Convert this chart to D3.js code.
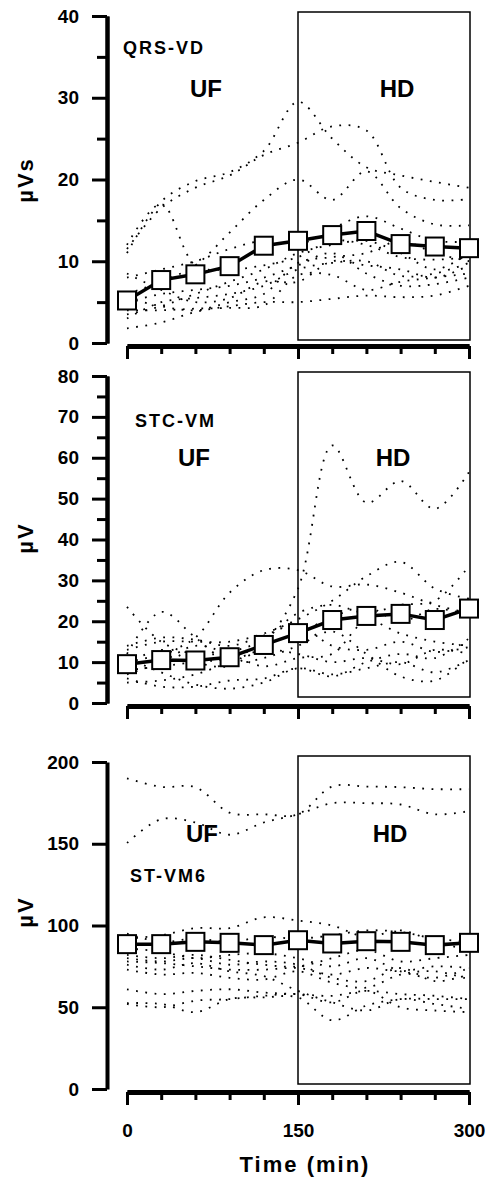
<!DOCTYPE html>
<html>
<head>
<meta charset="utf-8">
<script src="https://cdn.jsdelivr.net/npm/d3@7"></script>
<style>
  body { margin: 0; background: #fff; }
  text { font-family: "Liberation Sans", Arial, sans-serif; font-weight: bold; fill: #000; }
</style>
</head>
<body>
<svg width="487" height="1183"></svg>
<script>
// time points (min)
let times = [0, 30, 60, 90, 120, 150, 180, 210, 240, 270, 300];

// QRS-VD (µVs): group mean + single patients
let qrsMean = [5.2, 7.7, 8.4, 9.4, 11.9, 12.5, 13.2, 13.7, 12.1, 11.8, 11.6];
let qrsPatients = [
  [11, 17.3, 19.8, 20.9, 23.5, 29.5, 25, 21.5, 20.5, 19.7, 19],
  [11.5, 16.5, 19, 20.5, 23, 24.5, 26.5, 26, 19, 17.5, 17.6],
  [12, 17, 9.5, 9, 9.5, 10.5, 12.5, 12, 10.5, 10.2, 10.5],
  [6, 7.5, 9.5, 13.5, 17.5, 20, 17.5, 21, 16.5, 14.5, 14.4],
  [8, 9, 10, 11.5, 12.5, 12, 14, 15.5, 14, 12.5, 12.4],
  [1.8, 2.5, 3.8, 4.5, 5, 5, 5.4, 5.8, 5.6, 5.8, 7],
  [4, 4, 4.2, 4.3, 4.6, 8.3, 8.3, 6.5, 7.5, 8, 8.5],
  [5, 6, 6.5, 7, 8, 9.5, 11, 8.5, 7, 7.2, 8],
  [3, 5, 5.5, 6, 7, 9, 9.8, 10, 8.2, 8.5, 9.8],
  [3.5, 4.5, 6, 7.5, 9, 11, 12, 12.5, 11, 9, 11],
  [8.5, 6.5, 5, 5.5, 7.5, 7.5, 10, 9.5, 9, 8, 9.5],
  [5.5, 4.5, 4, 5, 6, 9.8, 10.5, 11, 12.5, 11, 10]
];

// STC-VM (µV)
let stcMean = [9.5, 10.5, 10.4, 11.2, 14.2, 17.1, 20.3, 21.3, 21.8, 20.3, 23.1];
let stcPatients = [
  [10, 12, 16, 27, 32.5, 32.5, 28.5, 29, 27, 24, 22],
  [13, 15, 15, 15, 17, 20.5, 25, 31, 34.5, 28, 25.5],
  [8, 9, 10, 11, 15, 28, 63, 49, 54.3, 47.5, 56.5],
  [23.5, 15, 12, 12.5, 15.5, 22, 24, 22, 24, 25, 33.5],
  [12, 22.3, 16, 10, 11, 14, 17.5, 12, 6.5, 5.5, 11],
  [11, 7.5, 4.5, 3.5, 5, 8.5, 7, 8.5, 10, 7.5, 10.5],
  [6, 4, 4, 5.5, 6, 8.5, 6.5, 10, 12, 11, 15.8],
  [14, 16, 15.5, 14, 16.5, 19, 14, 13, 15, 12.5, 13.7],
  [7, 10, 14, 12, 9, 11, 12, 20, 17, 15, 14],
  [5, 5.5, 7, 10, 13, 12, 10, 11, 9.5, 13, 12],
  [9.5, 13, 10, 9, 14, 17, 21, 23.5, 20, 23, 21.5]
];

// ST-VM6 (µV)
let stMean = [88.6, 88.6, 90, 89.4, 88, 91, 89, 90.4, 90, 88, 89.4];
let stPatients = [
  [190, 184.8, 184.6, 169, 168, 168, 185, 185, 184.6, 183.4, 183.4],
  [150.5, 165, 163, 155.5, 163, 168, 174.8, 174.8, 174, 168, 170],
  [92, 94, 98.4, 98.4, 105, 103, 100, 93, 97, 90, 85],
  [52.5, 52, 47, 55, 56, 56, 42, 51, 55, 55, 55],
  [52, 50, 54, 55, 57, 58, 53, 60, 50, 48, 47],
  [76, 73, 77, 72, 69, 60, 53, 48, 55, 52, 49],
  [82, 80, 82, 79, 76, 75, 80, 85, 78, 80, 82],
  [78, 77, 75, 73, 73, 74, 70, 74, 72, 75, 74],
  [73, 70, 71, 68, 67, 72, 65, 62, 70, 72, 67],
  [86, 84, 80, 82, 83, 80, 75, 80, 72, 68, 74],
  [80, 78, 80, 76, 78, 76, 68, 66, 74, 66, 70],
  [95, 90, 92, 90, 93, 92, 94, 97, 96, 92, 90],
  [61, 58, 60, 61, 59, 58, 57, 60, 58, 57, 55]
];

let svg = d3.select('svg');
let xScale = d3.scaleLinear().domain([0, 300]).range([127, 469]);

function drawPanel(p) {
  let yScale = d3.scaleLinear().domain([0, p.max]).range([p.yBottom, p.yTop]);
  let g = svg.append('g');

  // HD period box
  g.append('rect')
    .attr('x', xScale(150))
    .attr('y', p.boxTop)
    .attr('width', xScale(300) - xScale(150) + 1)
    .attr('height', p.boxBottom - p.boxTop)
    .style('fill', 'none')
    .style('stroke', '#000')
    .style('stroke-width', 1.5);

  // y axis, minor then major
  if (p.minor) {
    let minorAxis = d3.axisLeft(yScale).tickValues(p.minor).tickSize(10).tickSizeOuter(0).tickFormat('');
    g.append('g').attr('transform', 'translate(107,0)').call(minorAxis);
  }
  let yAxis = d3.axisLeft(yScale).tickValues(p.major).tickSize(15).tickSizeOuter(0).tickPadding(13);
  g.append('g').attr('class', 'y-axis').attr('transform', 'translate(107,0)').call(yAxis);

  // x axis
  let xMinor = d3.axisBottom(xScale).tickValues(times).tickSize(8).tickSizeOuter(0).tickFormat('');
  g.append('g').attr('transform', 'translate(0,' + p.xAxisY + ')').call(xMinor);
  let xMajor = d3.axisBottom(xScale).tickValues([0, 150, 300]).tickSize(13).tickSizeOuter(0)
    .tickPadding(19).tickFormat(d => p.xLabels ? d : '');
  g.append('g').attr('class', 'x-axis').attr('transform', 'translate(0,' + p.xAxisY + ')').call(xMajor);

  g.selectAll('.domain').style('stroke', '#000').style('stroke-width', 4);
  g.selectAll('.tick line').style('stroke', '#000').style('stroke-width', 3);
  g.selectAll('.tick text').style('font-size', '19px').style('font-weight', 'bold')
    .style('font-family', '"Liberation Sans", Arial, sans-serif');
  g.selectAll('.x-axis .domain').style('stroke-width', 5);

  // single patients, dotted
  let thin = d3.line()
    .x((d, i) => xScale(times[i]))
    .y(d => yScale(d))
    .curve(d3.curveCatmullRom.alpha(0.5));
  g.selectAll('.patient')
    .data(p.patients)
    .enter().append('path')
    .attr('class', 'patient')
    .attr('d', thin)
    .style('fill', 'none')
    .style('stroke', '#000')
    .style('stroke-width', 1.8)
    .style('stroke-dasharray', '1.8,7.5');

  // group mean
  let thick = d3.line()
    .x((d, i) => xScale(times[i]))
    .y(d => yScale(d));
  g.append('path')
    .attr('d', thick(p.mean))
    .style('fill', 'none')
    .style('stroke', '#000')
    .style('stroke-width', 3.5);
  g.selectAll('.point')
    .data(p.mean)
    .enter().append('rect')
    .attr('class', 'point')
    .attr('x', (d, i) => xScale(times[i]) - 9)
    .attr('y', d => yScale(d) - 9)
    .attr('width', 18)
    .attr('height', 18)
    .style('fill', '#fff')
    .style('stroke', '#000')
    .style('stroke-width', 2);

  // labels
  g.append('text')
    .attr('x', p.name[1]).attr('y', p.name[2])
    .style('font-size', '18px').style('letter-spacing', '2px')
    .text(p.name[0]);
  g.append('text')
    .attr('x', p.uf[0]).attr('y', p.uf[1])
    .style('font-size', '24px').style('text-anchor', 'middle')
    .text('UF');
  g.append('text')
    .attr('x', p.hd[0]).attr('y', p.hd[1])
    .style('font-size', '24px').style('text-anchor', 'middle')
    .text('HD');
  g.append('text')
    .attr('transform', 'translate(33,' + p.unitY + ') rotate(-90)')
    .style('font-size', '22px').style('letter-spacing', '2px').style('text-anchor', 'middle')
    .text(p.unit);
}

drawPanel({
  max: 40, yTop: 16, yBottom: 343, xAxisY: 346, boxTop: 12, boxBottom: 340,
  major: [0, 10, 20, 30, 40], minor: [5, 15, 25, 35],
  mean: qrsMean, patients: qrsPatients,
  name: ['QRS-VD', 123, 54], uf: [206, 97], hd: [397, 97],
  unit: 'µVs', unitY: 180
});

drawPanel({
  max: 80, yTop: 376, yBottom: 703, xAxisY: 706, boxTop: 372, boxBottom: 697,
  major: [0, 10, 20, 30, 40, 50, 60, 70, 80], minor: [5, 15, 25, 35, 45, 55, 65, 75],
  mean: stcMean, patients: stcPatients,
  name: ['STC-VM', 135, 427], uf: [194, 466], hd: [393, 466],
  unit: 'µV', unitY: 538
});

drawPanel({
  max: 200, yTop: 762, yBottom: 1089, xAxisY: 1092, boxTop: 756, boxBottom: 1084,
  major: [0, 50, 100, 150, 200], minor: null,
  mean: stMean, patients: stPatients, xLabels: true,
  name: ['ST-VM6', 130, 882], uf: [202, 842], hd: [390, 842],
  unit: 'µV', unitY: 912
});

svg.append('text')
  .attr('x', 305).attr('y', 1172)
  .style('font-size', '22px').style('letter-spacing', '2px').style('text-anchor', 'middle')
  .text('Time (min)');
</script>
</body>
</html>
